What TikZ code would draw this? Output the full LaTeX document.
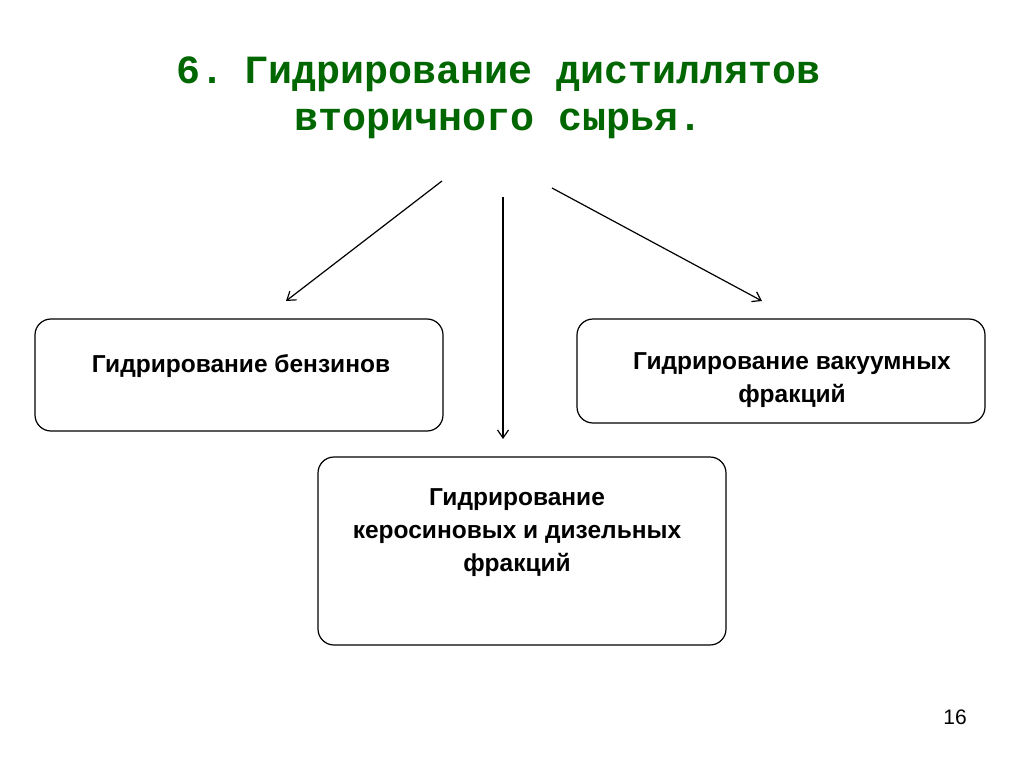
\documentclass[tikz,border=0pt]{standalone}
\usepackage{fontspec}
\usetikzlibrary{arrows.meta}
\setmainfont{Liberation Sans}
\newfontfamily\titlefont{Liberation Mono}
\definecolor{tgreen}{RGB}{0,102,0}
\begin{document}
\begin{tikzpicture}[x=1pt,y=-1pt,
  box/.style={draw,rounded corners=16pt,line width=1.2pt},
  lbl/.style={font=\fontsize{24.5}{33}\selectfont\bfseries,align=center},
  arr/.style={-{Straight Barb[length=8pt,width=11pt]},line width=1.2pt}]
\useasboundingbox (0,0) rectangle (1024,767);
\node[font=\titlefont\fontsize{40}{47}\selectfont\bfseries,text=tgreen,align=center] (title) at (499,98) {6.\hspace{-12pt} Гидрирование дистиллятов\\вторичного сырья.};
\draw[box] (35,319) rectangle (443,431);
\draw[box] (577,319) rectangle (985,423);
\draw[box] (318,457) rectangle (726,645);
\node[lbl] (b1) at (241,366) {Гидрирование бензинов};
\node[lbl] (b2) at (792,380) {Гидрирование вакуумных\\фракций};
\node[lbl] (b3) at (517,533) {Гидрирование\\керосиновых и дизельных\\фракций};
\coordinate (s1) at (442,181); \coordinate (e1) at (286,301);
\coordinate (s2) at (503,197); \coordinate (e2) at (503,439);
\coordinate (s3) at (552,188); \coordinate (e3) at (762,301);
\draw[arr] (s1) -- (e1);
\draw[arr] (s2) -- (e2);
\draw[arr] (s3) -- (e3);
\node[font=\fontsize{21}{24}\selectfont] (num) at (955,717) {16};
\end{tikzpicture}
\end{document}
